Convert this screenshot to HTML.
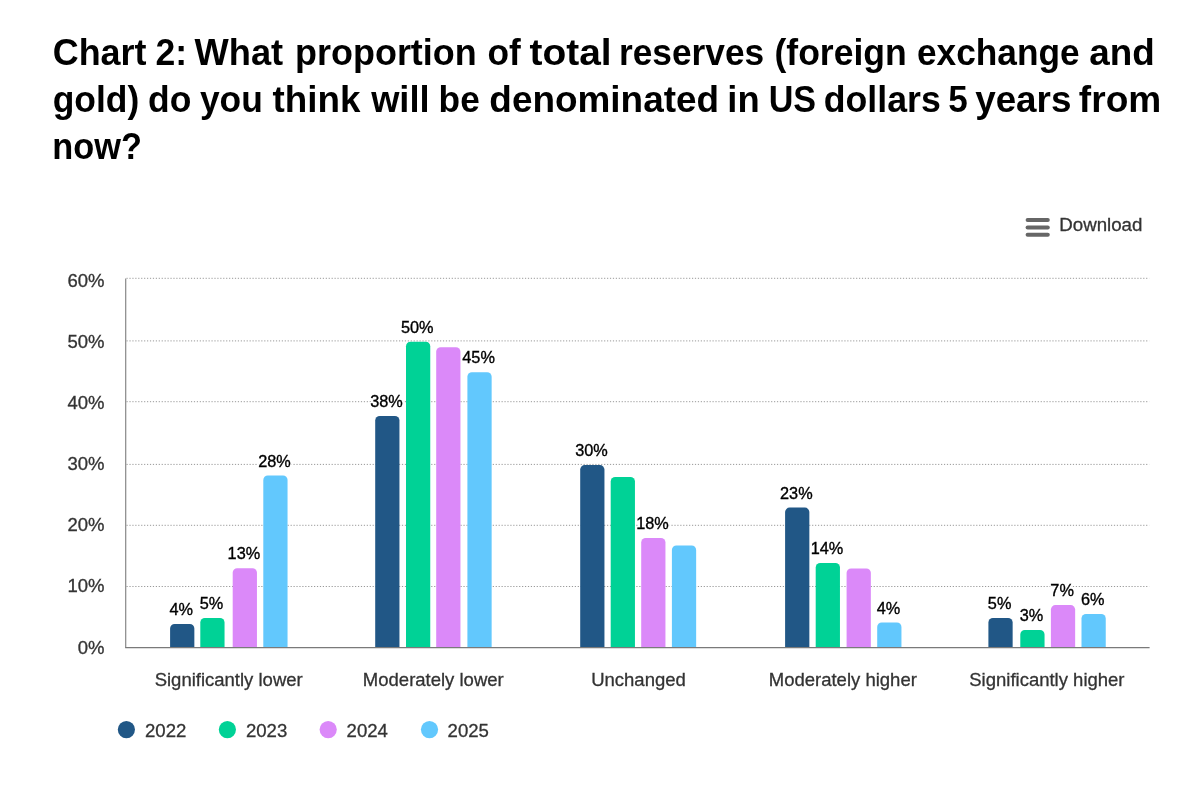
<!DOCTYPE html>
<html><head><meta charset="utf-8"><title>Chart 2</title>
<style>
html,body{margin:0;padding:0;background:#fff;}
body{width:1199px;height:788px;overflow:hidden;}
svg{display:block;will-change:transform;font-family:"Liberation Sans",sans-serif;}
.t{font-weight:bold;font-size:36.5px;fill:#000;}
.ax{font-size:18.5px;fill:#333;}
.lg{font-size:18.6px;fill:#333;}
.dl{font-size:16.3px;fill:#000;stroke:#000;stroke-width:0.35px;}
.dh{font-size:16.3px;fill:#fff;stroke:#fff;stroke-width:3.2px;stroke-linejoin:round;}
.ax,.lg{stroke:#333;stroke-width:0.3px;}
</style></head><body>
<svg width="1199" height="788" viewBox="0 0 1199 788">

<text class="t" transform="translate(52.77 65.3) scale(0.984 1)">Chart</text>
<text class="t" transform="translate(155.38 65.3) scale(0.9735 1)">2:</text>
<text class="t" transform="translate(194.55 65.3) scale(0.9933 1)">What</text>
<text class="t" transform="translate(295.08 65.3) scale(0.9849 1)">proportion</text>
<text class="t" transform="translate(487.38 65.3) scale(0.9666 1)">of</text>
<text class="t" transform="translate(529.55 65.3) scale(1.0647 1)">total</text>
<text class="t" transform="translate(618.91 65.3) scale(0.9676 1)">reserves</text>
<text class="t" transform="translate(774.48 65.3) scale(0.9746 1)">(foreign</text>
<text class="t" transform="translate(916.98 65.3) scale(0.9663 1)">exchange</text>
<text class="t" transform="translate(1089.34 65.3) scale(1.009 1)">and</text>
<text class="t" transform="translate(52.68 112.0) scale(0.9704 1)">gold)</text>
<text class="t" transform="translate(148.08 112.0) scale(0.9705 1)">do</text>
<text class="t" transform="translate(199.95 112.0) scale(0.9689 1)">you</text>
<text class="t" transform="translate(272.55 112.0) scale(1.0098 1)">think</text>
<text class="t" transform="translate(371.14 112.0) scale(0.9944 1)">will</text>
<text class="t" transform="translate(438.62 112.0) scale(0.9666 1)">be</text>
<text class="t" transform="translate(489.34 112.0) scale(1.0117 1)">denominated</text>
<text class="t" transform="translate(727.36 112.0) scale(0.9969 1)">in</text>
<text class="t" transform="translate(768.68 112.0) scale(0.9343 1)">US</text>
<text class="t" transform="translate(823.77 112.0) scale(0.9776 1)">dollars</text>
<text class="t" transform="translate(948.29 112.0) scale(0.9605 1)">5</text>
<text class="t" transform="translate(975.15 112.0) scale(1.009 1)">years</text>
<text class="t" transform="translate(1078.85 112.0) scale(1.0163 1)">from</text>
<text class="t" transform="translate(52.37 158.5) scale(0.9409 1)">now?</text>
<g fill="#666"><rect x="1025.6" y="218.1" width="24.2" height="4" rx="2"/><rect x="1025.6" y="225.5" width="24.2" height="4" rx="2"/><rect x="1025.6" y="232.8" width="24.2" height="4" rx="2"/></g>
<text class="ax" x="1059.3" y="230.9" style="font-size:18.7px">Download</text>
<line x1="126.5" x2="1149.2" y1="278.3" y2="278.3" stroke="#999" stroke-width="1" stroke-dasharray="1.2,1.73"/>
<line x1="126.5" x2="1149.2" y1="340.9" y2="340.9" stroke="#999" stroke-width="1" stroke-dasharray="1.2,1.73"/>
<line x1="126.5" x2="1149.2" y1="401.7" y2="401.7" stroke="#999" stroke-width="1" stroke-dasharray="1.2,1.73"/>
<line x1="126.5" x2="1149.2" y1="464.4" y2="464.4" stroke="#999" stroke-width="1" stroke-dasharray="1.2,1.73"/>
<line x1="126.5" x2="1149.2" y1="525.3" y2="525.3" stroke="#999" stroke-width="1" stroke-dasharray="1.2,1.73"/>
<line x1="126.5" x2="1149.2" y1="586.5" y2="586.5" stroke="#999" stroke-width="1" stroke-dasharray="1.2,1.73"/>
<text class="ax" x="104.5" y="286.5" text-anchor="end">60%</text>
<text class="ax" x="104.5" y="347.6" text-anchor="end">50%</text>
<text class="ax" x="104.5" y="408.9" text-anchor="end">40%</text>
<text class="ax" x="104.5" y="470.4" text-anchor="end">30%</text>
<text class="ax" x="104.5" y="531.0" text-anchor="end">20%</text>
<text class="ax" x="104.5" y="591.8" text-anchor="end">10%</text>
<text class="ax" x="104.5" y="654.3" text-anchor="end">0%</text>
<path d="M170.10,647.20V628.40A4.5 4.5 0 0 1 174.60,623.90H189.85A4.5 4.5 0 0 1 194.35,628.40V647.20Z" fill="#215786"/>
<path d="M200.30,647.20V622.50A4.5 4.5 0 0 1 204.80,618.00H220.05A4.5 4.5 0 0 1 224.55,622.50V647.20Z" fill="#00d296"/>
<path d="M232.70,647.20V572.70A4.5 4.5 0 0 1 237.20,568.20H252.45A4.5 4.5 0 0 1 256.95,572.70V647.20Z" fill="#db89f9"/>
<path d="M263.30,647.20V480.00A4.5 4.5 0 0 1 267.80,475.50H283.05A4.5 4.5 0 0 1 287.55,480.00V647.20Z" fill="#62c8fd"/>
<path d="M375.20,647.20V420.40A4.5 4.5 0 0 1 379.70,415.90H394.95A4.5 4.5 0 0 1 399.45,420.40V647.20Z" fill="#215786"/>
<path d="M406.00,647.20V346.20A4.5 4.5 0 0 1 410.50,341.70H425.75A4.5 4.5 0 0 1 430.25,346.20V647.20Z" fill="#00d296"/>
<path d="M436.20,647.20V351.80A4.5 4.5 0 0 1 440.70,347.30H455.95A4.5 4.5 0 0 1 460.45,351.80V647.20Z" fill="#db89f9"/>
<path d="M467.40,647.20V376.70A4.5 4.5 0 0 1 471.90,372.20H487.15A4.5 4.5 0 0 1 491.65,376.70V647.20Z" fill="#62c8fd"/>
<path d="M580.20,647.20V469.60A4.5 4.5 0 0 1 584.70,465.10H599.95A4.5 4.5 0 0 1 604.45,469.60V647.20Z" fill="#215786"/>
<path d="M610.70,647.20V481.50A4.5 4.5 0 0 1 615.20,477.00H630.45A4.5 4.5 0 0 1 634.95,481.50V647.20Z" fill="#00d296"/>
<path d="M641.20,647.20V542.50A4.5 4.5 0 0 1 645.70,538.00H660.95A4.5 4.5 0 0 1 665.45,542.50V647.20Z" fill="#db89f9"/>
<path d="M671.90,647.20V549.90A4.5 4.5 0 0 1 676.40,545.40H691.65A4.5 4.5 0 0 1 696.15,549.90V647.20Z" fill="#62c8fd"/>
<path d="M785.10,647.20V512.10A4.5 4.5 0 0 1 789.60,507.60H804.85A4.5 4.5 0 0 1 809.35,512.10V647.20Z" fill="#215786"/>
<path d="M815.70,647.20V567.50A4.5 4.5 0 0 1 820.20,563.00H835.45A4.5 4.5 0 0 1 839.95,567.50V647.20Z" fill="#00d296"/>
<path d="M846.60,647.20V572.90A4.5 4.5 0 0 1 851.10,568.40H866.35A4.5 4.5 0 0 1 870.85,572.90V647.20Z" fill="#db89f9"/>
<path d="M877.20,647.20V626.90A4.5 4.5 0 0 1 881.70,622.40H896.95A4.5 4.5 0 0 1 901.45,626.90V647.20Z" fill="#62c8fd"/>
<path d="M988.40,647.20V622.50A4.5 4.5 0 0 1 992.90,618.00H1008.15A4.5 4.5 0 0 1 1012.65,622.50V647.20Z" fill="#215786"/>
<path d="M1020.30,647.20V634.40A4.5 4.5 0 0 1 1024.80,629.90H1040.05A4.5 4.5 0 0 1 1044.55,634.40V647.20Z" fill="#00d296"/>
<path d="M1050.90,647.20V609.60A4.5 4.5 0 0 1 1055.40,605.10H1070.65A4.5 4.5 0 0 1 1075.15,609.60V647.20Z" fill="#db89f9"/>
<path d="M1081.50,647.20V618.40A4.5 4.5 0 0 1 1086.00,613.90H1101.25A4.5 4.5 0 0 1 1105.75,618.40V647.20Z" fill="#62c8fd"/>
<line x1="125.7" x2="125.7" y1="278.5" y2="647.7" stroke="#888" stroke-width="1.2"/>
<line x1="125.2" x2="1149.6" y1="647.6" y2="647.6" stroke="#7a7a7a" stroke-width="1.1"/>
<text class="dh" x="181.32" y="615.00" text-anchor="middle">4%</text>
<text class="dl" x="181.32" y="615.00" text-anchor="middle">4%</text>
<text class="dh" x="211.53" y="609.00" text-anchor="middle">5%</text>
<text class="dl" x="211.53" y="609.00" text-anchor="middle">5%</text>
<text class="dh" x="243.92" y="559.40" text-anchor="middle">13%</text>
<text class="dl" x="243.92" y="559.40" text-anchor="middle">13%</text>
<text class="dh" x="274.53" y="466.80" text-anchor="middle">28%</text>
<text class="dl" x="274.53" y="466.80" text-anchor="middle">28%</text>
<text class="dh" x="386.43" y="406.70" text-anchor="middle">38%</text>
<text class="dl" x="386.43" y="406.70" text-anchor="middle">38%</text>
<text class="dh" x="417.23" y="332.90" text-anchor="middle">50%</text>
<text class="dl" x="417.23" y="332.90" text-anchor="middle">50%</text>
<text class="dh" x="478.62" y="363.30" text-anchor="middle">45%</text>
<text class="dl" x="478.62" y="363.30" text-anchor="middle">45%</text>
<text class="dh" x="591.43" y="456.40" text-anchor="middle">30%</text>
<text class="dl" x="591.43" y="456.40" text-anchor="middle">30%</text>
<text class="dh" x="652.43" y="529.00" text-anchor="middle">18%</text>
<text class="dl" x="652.43" y="529.00" text-anchor="middle">18%</text>
<text class="dh" x="796.33" y="498.80" text-anchor="middle">23%</text>
<text class="dl" x="796.33" y="498.80" text-anchor="middle">23%</text>
<text class="dh" x="826.93" y="554.00" text-anchor="middle">14%</text>
<text class="dl" x="826.93" y="554.00" text-anchor="middle">14%</text>
<text class="dh" x="888.43" y="614.20" text-anchor="middle">4%</text>
<text class="dl" x="888.43" y="614.20" text-anchor="middle">4%</text>
<text class="dh" x="999.62" y="609.00" text-anchor="middle">5%</text>
<text class="dl" x="999.62" y="609.00" text-anchor="middle">5%</text>
<text class="dh" x="1031.52" y="620.60" text-anchor="middle">3%</text>
<text class="dl" x="1031.52" y="620.60" text-anchor="middle">3%</text>
<text class="dh" x="1062.12" y="595.50" text-anchor="middle">7%</text>
<text class="dl" x="1062.12" y="595.50" text-anchor="middle">7%</text>
<text class="dh" x="1092.72" y="604.50" text-anchor="middle">6%</text>
<text class="dl" x="1092.72" y="604.50" text-anchor="middle">6%</text>
<text class="ax" x="228.7" y="685.5" text-anchor="middle">Significantly lower</text>
<text class="ax" x="433.3" y="685.5" text-anchor="middle">Moderately lower</text>
<text class="ax" x="638.5" y="685.5" text-anchor="middle">Unchanged</text>
<text class="ax" x="842.8" y="685.5" text-anchor="middle">Moderately higher</text>
<text class="ax" x="1046.9" y="685.5" text-anchor="middle">Significantly higher</text>
<circle cx="126.4" cy="729.6" r="8.6" fill="#215786"/>
<text class="lg" x="145.0" y="737">2022</text>
<circle cx="227.4" cy="729.6" r="8.6" fill="#00d296"/>
<text class="lg" x="245.9" y="737">2023</text>
<circle cx="328.2" cy="729.6" r="8.6" fill="#db89f9"/>
<text class="lg" x="346.6" y="737">2024</text>
<circle cx="429.5" cy="729.6" r="8.6" fill="#62c8fd"/>
<text class="lg" x="447.6" y="737">2025</text>
</svg></body></html>
